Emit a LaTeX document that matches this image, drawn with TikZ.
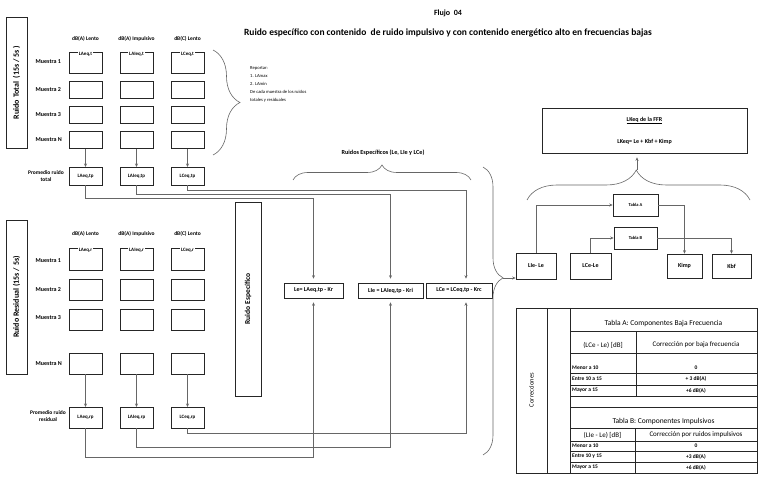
\documentclass[tikz,border=0pt]{standalone}
\usepackage{fontspec}
\setmainfont{Carlito}
\usetikzlibrary{arrows.meta,decorations.pathreplacing}

\begin{document}
\begin{tikzpicture}[x=1pt, y=-1pt,
    caja/.style={draw=black!85, semithick, inner sep=0pt, font=\bfseries\fontsize{5}{6}\selectfont},
    barra/.style={draw=black!85, thick, rotate=90, inner sep=0pt},
    texto/.style={font=\bfseries\fontsize{5.5}{6.5}\selectfont, align=center, inner sep=0.5pt},
    fila/.style={font=\bfseries\fontsize{6}{7}\selectfont, anchor=west, inner sep=0.5pt},
    tabla/.style={font=\bfseries\fontsize{5.5}{6.5}\selectfont, inner sep=0pt},
    flecha/.style={draw=black!60, line width=0.6pt, -{Stealth[length=3.5pt, width=3pt]}},
    llave/.style args={#1/#2}{decorate, decoration={brace, amplitude=#1, aspect=#2}, draw=black!60, semithick}
]
\useasboundingbox (0,0) rectangle (777,489);

% Titulo
\node[font=\bfseries\fontsize{8}{9}\selectfont] (flujo) at (448,13) {Flujo\ \ 04};
\node[font=\bfseries\fontsize{9.5}{10}\selectfont] (titulo) at (448,33) {Ruido específico con contenido\ \ de ruido impulsivo y con contenido energético alto en frecuencias bajas};

% Ruido total
\node[barra, minimum width=131pt, minimum height=21pt, font=\bfseries\fontsize{8}{9}\selectfont] (rt) at (16.5,82.5) {Ruido Total\ \ (15s / 5s )};
\foreach \c/\x in {1/85.5, 2/136.5, 3/187.5} {
    \node[caja, minimum width=33pt, minimum height=21pt] (t1\c) at (\x,62.5) {};
    \node[caja, minimum width=33pt, minimum height=16.5pt] (t2\c) at (\x,90) {};
    \node[caja, minimum width=33pt, minimum height=16.5pt] (t3\c) at (\x,115) {};
    \node[caja, minimum width=33pt, minimum height=16.5pt] (tn\c) at (\x,140) {};
    \draw[flecha] (tn\c) -- (\x,167);
}
\node[texto] (ht1) at (85.5,39) {dB(A) Lento};
\node[texto] (ht2) at (136.5,39) {dB(A) Impulsivo};
\node[texto] (ht3) at (187.5,39) {dB(C) Lento};
\node[texto, fill=white, inner sep=1pt, yshift=-3pt, font=\bfseries\fontsize{5}{6}\selectfont] at (t11.north) {LAeq,t};
\node[texto, fill=white, inner sep=1pt, yshift=-3pt, font=\bfseries\fontsize{5}{6}\selectfont] at (t12.north) {LAIeq,t};
\node[texto, fill=white, inner sep=1pt, yshift=-3pt, font=\bfseries\fontsize{5}{6}\selectfont] at (t13.north) {LCeq,t};
\node[fila] (mt1) at (35,62) {Muestra 1};
\node[fila] (mt2) at (35,90) {Muestra 2};
\node[fila] (mt3) at (35,115) {Muestra 3};
\node[fila] (mtn) at (35,140) {Muestra N};
\node[caja, minimum width=33pt, minimum height=18pt] (tp1) at (85.5,176) {LAeq,tp};
\node[caja, minimum width=33pt, minimum height=18pt] (tp2) at (136.5,176) {LAIeq,tp};
\node[caja, minimum width=33pt, minimum height=18pt] (tp3) at (187.5,176) {LCeq,tp};
\node[texto] (pt) at (46,176) {Promedio ruido\\total};

% Reportar
\draw[llave=27pt/0.5] (213,50) -- (213,155);
\node[anchor=north west, align=left, font=\fontsize{4.6}{8.2}\selectfont, inner sep=0pt] (rep) at (250,66) {Reportar:\\1. LAmax\\2. LAmin\\De cada muestra de los ruidos\\totales y residuales};

% Ruido residual
\node[barra, minimum width=154pt, minimum height=21pt, font=\bfseries\fontsize{8}{9}\selectfont] (rr) at (16.5,297) {Ruido Residual (15s / 5s)};
\foreach \c/\x in {1/85.5, 2/136.5, 3/187.5} {
    \node[caja, minimum width=33pt, minimum height=22pt] (r1\c) at (\x,259) {};
    \node[caja, minimum width=33pt, minimum height=21pt] (r2\c) at (\x,289.5) {};
    \node[caja, minimum width=33pt, minimum height=21pt] (r3\c) at (\x,319.5) {};
    \node[caja, minimum width=33pt, minimum height=21pt] (rn\c) at (\x,363.5) {};
    \draw[flecha] (rn\c) -- (\x,407);
}
\node[texto] (hr1) at (85.5,234) {dB(A) Lento};
\node[texto] (hr2) at (136.5,234) {dB(A) Impulsivo};
\node[texto] (hr3) at (187.5,234) {dB(C) Lento};
\node[texto, fill=white, inner sep=1pt, yshift=-3pt, font=\bfseries\fontsize{5}{6}\selectfont] at (r11.north) {LAeq,r};
\node[texto, fill=white, inner sep=1pt, yshift=-3pt, font=\bfseries\fontsize{5}{6}\selectfont] at (r12.north) {LAIeq,r};
\node[texto, fill=white, inner sep=1pt, yshift=-3pt, font=\bfseries\fontsize{5}{6}\selectfont] at (r13.north) {LCeq,r};
\node[fila] (mr1) at (35,261) {Muestra 1};
\node[fila] (mr2) at (35,290) {Muestra 2};
\node[fila] (mr3) at (35,318) {Muestra 3};
\node[fila] (mrn) at (35,364) {Muestra N};
\node[caja, minimum width=33pt, minimum height=21pt] (rp1) at (85.5,417.5) {LAeq,rp};
\node[caja, minimum width=33pt, minimum height=21pt] (rp2) at (136.5,417.5) {LAIeq,rp};
\node[caja, minimum width=33pt, minimum height=21pt] (rp3) at (187.5,417.5) {LCeq,rp};
\node[texto] (pr) at (48,416) {Promedio ruido\\residual};

% Ruido especifico
\node[barra, minimum width=194pt, minimum height=26pt, font=\bfseries\fontsize{7.5}{9}\selectfont] (re) at (248,299) {Ruido Específico};
\node[caja, minimum width=59pt, minimum height=15pt, font=\bfseries\fontsize{6}{7}\selectfont] (le) at (313.5,290.5) {Le= LAeq,tp - Kr};
\node[caja, minimum width=65pt, minimum height=15pt, font=\bfseries\fontsize{6}{7}\selectfont] (lie) at (390.5,290.5) {LIe = LAIeq,tp - Kri};
\node[caja, minimum width=66pt, minimum height=15pt, font=\bfseries\fontsize{6}{7}\selectfont] (lce) at (459,290.5) {LCe = LCeq,tp - Krc};
\draw[llave=15pt/0.5] (293,180) -- (471,180);
\node[texto, font=\bfseries\fontsize{6.2}{7}\selectfont] (res) at (383,153) {Ruidos Específicos (Le, LIe y LCe)};

% Conexiones
\draw[flecha, shorten >=4pt] (tp1.south) -- ++(0,13) -| (le.north);
\draw[flecha, shorten >=4pt] (tp2.south) -- ++(0,9) -| (lie.north);
\draw[flecha, shorten >=4pt] (tp3.south) -- ++(0,5) -| ([xshift=7pt]lce.north);
\draw[flecha, shorten >=4pt] (rp1.south) -- ++(0,29) -| (le.south);
\draw[flecha, shorten >=4pt] (rp2.south) -- ++(0,19) -| (lie.south);
\draw[flecha, shorten >=4pt] (rp3.south) -- ++(0,5) -| ([xshift=7pt]lce.south);

% Calculo LKeq
\draw[llave=20pt/0.385] (483,167) -- (483,455);
\coordinate (pl) at (503,278);
\node[caja, minimum width=205pt, minimum height=45pt, align=center, font=\bfseries\fontsize{6}{7}\selectfont] (lkeq) at (644.5,130.5) {\underline{LKeq de la FFR}\\[14pt]LKeq= Le + Kbf + Kimp};
\node[caja, minimum width=40pt, minimum height=26pt, font=\bfseries\fontsize{6}{7}\selectfont] (lile) at (536,266) {LIe- Le};
\node[caja, minimum width=41pt, minimum height=26pt, font=\bfseries\fontsize{6}{7}\selectfont] (lcele) at (590.5,266) {LCe-Le};
\node[caja, minimum width=35pt, minimum height=24pt, font=\bfseries\fontsize{6}{7}\selectfont] (kimp) at (684.5,266) {Kimp};
\node[caja, minimum width=39pt, minimum height=24pt, font=\bfseries\fontsize{6}{7}\selectfont] (kbf) at (731.5,266) {Kbf};
\node[caja, minimum width=45pt, minimum height=22pt, font=\bfseries\fontsize{4.5}{5}\selectfont] (tablaA) at (635.5,205) {Tabla A};
\node[caja, minimum width=43pt, minimum height=22pt, font=\bfseries\fontsize{4.5}{5}\selectfont] (tablaB) at (635.5,238) {Tabla B};
\draw[flecha] (pl) -- (pl -| lile.west);
\draw[flecha] (lile.north) |- (tablaA.west);
\draw[flecha] (tablaA.east) -| (kimp.north);
\draw[flecha] (lcele.north) |- (tablaB.west);
\draw[flecha] (tablaB.east) -| (kbf.north);
\draw[llave=30pt/0.49] (527,200) -- (750,200);
\coordinate (pk) at (637,170);
\draw[flecha, shorten >=4pt] (pk) -- (pk |- lkeq.south);

% Tabla de correcciones
\draw[thick, black!85] (516,308) rectangle (757,473);
\draw[black!85] (547,308) -- (547,473) (570,308) -- (570,473);
\draw[black!85] (570,331) -- (757,331) (636,331) -- (636,396)
    (570,353) -- (757,353) (570,373) -- (757,373) (570,385) -- (757,385) (570,396) -- (757,396);
\draw[thick, black!85] (570,407) -- (757,407);
\draw[black!85] (570,428) -- (757,428) (635,428) -- (635,473)
    (570,441) -- (757,441) (570,451) -- (757,451) (570,462) -- (757,462);
\node[tabla, rotate=90, font=\fontsize{6.5}{7}\selectfont] (corr) at (531.5,390) {Correcciones};
\node[tabla, font=\fontsize{7.5}{8}\selectfont] (ta) at (663.5,324) {Tabla A: Componentes Baja Frecuencia};
\node[tabla, font=\fontsize{7}{8}\selectfont] (ta1) at (603,345) {(LCe - Le) [dB]};
\node[tabla, font=\fontsize{7}{8}\selectfont] (ta2) at (696,345) {Corrección por baja frecuencia};
\node[tabla, anchor=west] at (572,368) {Menor a 10};
\node[tabla, anchor=west] at (572,379) {Entre 10 a 15};
\node[tabla, anchor=west] at (572,390.5) {Mayor a 15};
\node[tabla] at (696,368) {0};
\node[tabla] at (696,379) {+ 3 dB(A)};
\node[tabla] at (696,390.5) {+6 dB(A)};
\node[tabla, font=\fontsize{7.5}{8}\selectfont] (tb) at (663.5,421) {Tabla B: Componentes Impulsivos};
\node[tabla, font=\fontsize{7}{8}\selectfont] (tb1) at (602.5,435) {(LIe - Le) [dB]};
\node[tabla, font=\fontsize{7}{8}\selectfont] (tb2) at (696,435) {Corrección por ruidos impulsivos};
\node[tabla, anchor=west] at (572,446) {Menor a 10};
\node[tabla, anchor=west] at (572,456.5) {Entre 10 y 15};
\node[tabla, anchor=west] at (572,467.5) {Mayor a 15};
\node[tabla] at (696,446) {0};
\node[tabla] at (696,456.5) {+3 dB(A)};
\node[tabla] at (696,467.5) {+6 dB(A)};
\end{tikzpicture}
\end{document}
